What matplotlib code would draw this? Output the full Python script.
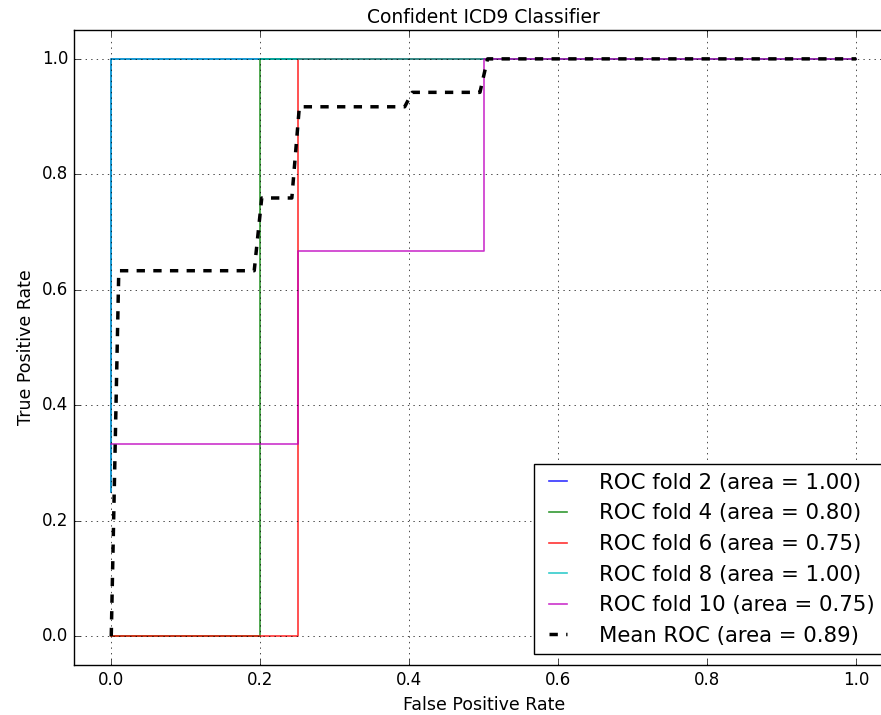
import matplotlib
matplotlib.use('Agg')
import matplotlib.pyplot as plt

plt.style.use('classic')

# roc curves (fpr, tpr)
fold_names = ['ROC fold 2', 'ROC fold 4', 'ROC fold 6', 'ROC fold 8', 'ROC fold 10']
fold_areas = [1.00, 0.80, 0.75, 1.00, 0.75]
fold_colors = ['b', 'g', 'r', 'c', 'm']
fold_fpr = [
    [0.0, 0.0, 1.0],
    [0.0, 0.2, 0.2, 1.0],
    [0.0, 0.25, 0.25, 1.0],
    [0.0, 0.0, 1.0],
    [0.0, 0.25, 0.25, 0.5, 0.5, 1.0],
]
fold_tpr = [
    [0.25, 1.0, 1.0],
    [0.0, 0.0, 1.0, 1.0],
    [0.0, 0.0, 1.0, 1.0],
    [0.25, 1.0, 1.0],
    [0.333, 0.333, 0.667, 0.667, 1.0, 1.0],
]

mean_fpr = [0.0, 0.0101, 0.1919, 0.2020, 0.2424, 0.2525, 0.3939, 0.4040, 0.4949, 0.5051, 1.0]
mean_tpr = [0.0, 0.633, 0.633, 0.759, 0.759, 0.917, 0.917, 0.942, 0.942, 1.0, 1.0]
mean_area = 0.89

fig = plt.figure(figsize=(8.81, 7.15), dpi=100, facecolor='white')
ax = fig.add_axes([74 / 881, 50 / 715, 819.5 / 881, 635 / 715])

for i in range(len(fold_names)):
    ax.plot(fold_fpr[i], fold_tpr[i], color=fold_colors[i], lw=1.2, alpha=0.8,
            label='%s (area = %0.2f)' % (fold_names[i], fold_areas[i]))

ax.plot(mean_fpr, mean_tpr, 'k--', lw=2.5,
        label='Mean ROC (area = %0.2f)' % mean_area)

ax.set_xlim(-0.05, 1.05)
ax.set_ylim(-0.05, 1.05)
ax.set_xticks([0.0, 0.2, 0.4, 0.6, 0.8, 1.0])
ax.set_yticks([0.0, 0.2, 0.4, 0.6, 0.8, 1.0])
ax.tick_params(labelsize=12)
ax.grid(True, linestyle=':', color='k', lw=0.5)
ax.set_xlabel('False Positive Rate', fontsize=12.5)
ax.set_ylabel('True Positive Rate', fontsize=12.5)
ax.set_title('Confident ICD9 Classifier', fontsize=13.5)
ax.legend(loc='lower right', fontsize=15.3, handlelength=1.45, handletextpad=1.2,
          labelspacing=0.5, borderaxespad=0.5)

fig.savefig('out.png', dpi=100, facecolor='white')
